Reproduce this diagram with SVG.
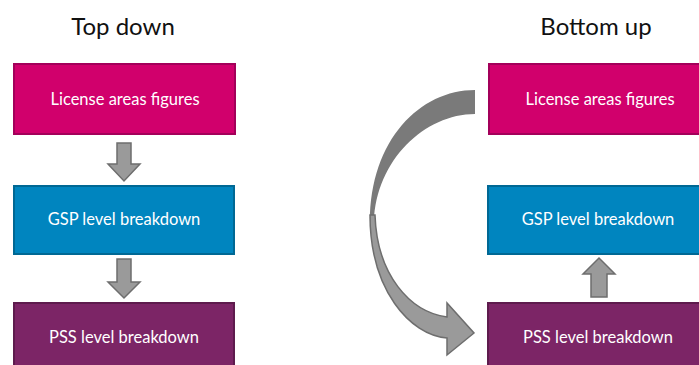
<svg xmlns="http://www.w3.org/2000/svg" width="699" height="365" viewBox="0 0 699 365">
<style>
.title{font-family:Lato,"Liberation Sans",sans-serif;font-size:24px;fill:#111;text-anchor:middle}
.lbl{font-family:Lato,"Liberation Sans",sans-serif;font-size:16.5px;fill:#fff;text-anchor:middle}
.lic{fill:#D1006C;stroke:#A3005A;stroke-width:2}
.gsp{fill:#0085BF;stroke:#006894;stroke-width:2}
.pss{fill:#7C2566;stroke:#5E1B4D;stroke-width:2}
.blk{fill:#9A9A9A;stroke:#6E6E6E;stroke-width:1.5;stroke-linejoin:miter}
</style>
<rect width="699" height="365" fill="#fff"/>
<text class="title" x="123" y="35">Top down</text>
<text class="title" x="596" y="35">Bottom up</text>

<g id="td-license"><rect class="lic" x="14" y="64" width="221" height="70"/><text class="lbl" x="125" y="105">License areas figures</text></g>
<g id="td-gsp"><rect class="gsp" x="14" y="186" width="220" height="68"/><text class="lbl" x="124" y="225">GSP level breakdown</text></g>
<g id="td-pss"><rect class="pss" x="14" y="303" width="220" height="70"/><text class="lbl" x="124" y="343">PSS level breakdown</text></g>

<g id="bu-license"><rect class="lic" x="489" y="64" width="220" height="70"/><text class="lbl" x="600" y="105">License areas figures</text></g>
<g id="bu-gsp"><rect class="gsp" x="488" y="186" width="220" height="68"/><text class="lbl" x="598" y="225">GSP level breakdown</text></g>
<g id="bu-pss"><rect class="pss" x="488" y="303" width="220" height="70"/><text class="lbl" x="598" y="343">PSS level breakdown</text></g>

<g id="connectors">
<path class="blk" d="M117,143 H131 V164 H140 L124,181 L108,164 H117 Z"/>
<path class="blk" d="M117,259 H131 V282 H140 L124,298 L108,282 H117 Z"/>
<path class="blk" d="M591,297 H607 V274 H615 L599,258 L583,274 H591 Z"/>
<path fill="#7A7A7A" d="M475,90 C420,90 370,140 370,222 L374,222 C376,160 425,114 475,114 Z"/>
<path class="blk" d="M370,215 C370,290 410,335 447,338 L447,355 L474,333 L447,303 L447,317 C410,312 377,275 375,215 Z"/>
</g>
</svg>
